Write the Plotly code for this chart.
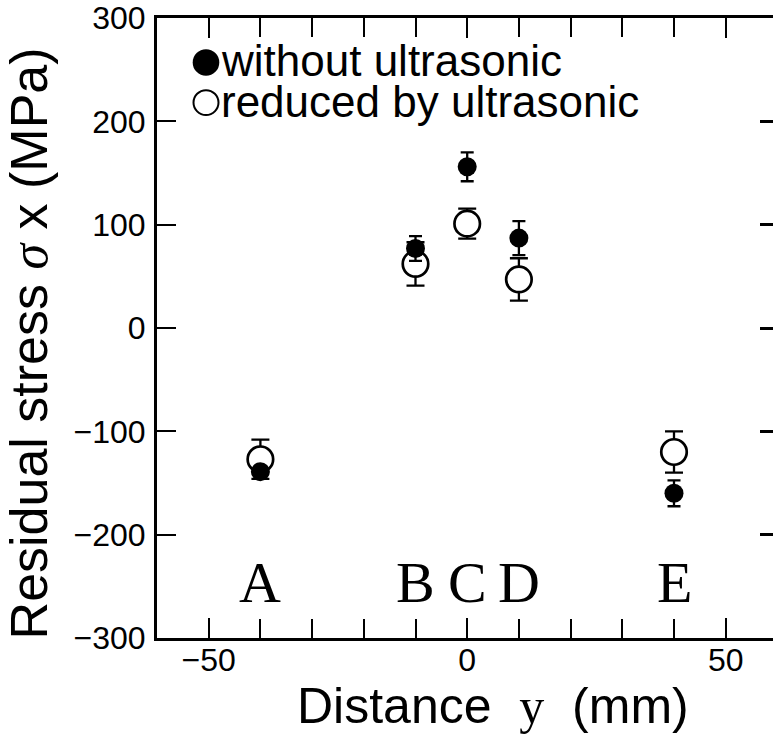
import plotly.graph_objects as go

# ---- data ----
x_pos = [-40, -10, 0, 10, 40]
letters = ["A", "B", "C", "D", "E"]
without_y = [-139, 77, 156, 87, -160]
without_err = [5, 12, 14, 16.5, 12.5]
reduced_y = [-127, 62, 101, 47, -120]
reduced_err = [19, 21, 14.5, 20.5, 20]
x_ticks = [-50, 0, 50]
y_ticks = [-300, -200, -100, 0, 100, 200, 300]

W, H = 773, 742
ML, MR, MT, MB = 157, 0, 15, 104
PW, PH = W - ML - MR, H - MT - MB


def px(xp):
    return (xp - ML) / PW


def py(yp):
    return (H - MB - yp) / PH


def lab(v):
    return str(v).replace("-", "\u2212")


SANS = "Liberation Sans, Arial, Helvetica, sans-serif"
SERIF = "Liberation Serif, Times New Roman, serif"

fig = go.Figure()

fig.add_trace(go.Scatter(
    x=x_pos, y=reduced_y, mode="markers", name="reduced by ultrasonic",
    marker=dict(symbol="circle", size=25.5, color="white",
                line=dict(width=2.7, color="black")),
    error_y=dict(type="data", array=reduced_err, visible=True,
                 color="black", thickness=2.3, width=9),
    showlegend=False,
))
fig.add_trace(go.Scatter(
    x=x_pos, y=without_y, mode="markers", name="without ultrasonic",
    marker=dict(symbol="circle", size=19, color="black", line=dict(width=0)),
    error_y=dict(type="data", array=without_err, visible=True,
                 color="black", thickness=2.3, width=6.5),
    showlegend=False,
))
# helper trace for the right-hand tick axis
fig.add_trace(go.Scatter(x=[None], y=[None], yaxis="y2", showlegend=False,
                         hoverinfo="skip"))

annotations = []
# position letters
for xv, t in zip(x_pos, letters):
    annotations.append(dict(x=xv, y=-246, xref="x", yref="y", text=t,
                            showarrow=False, xanchor="center", yanchor="middle",
                            font=dict(family=SERIF, size=58, color="black")))
# legend texts
annotations.append(dict(x=px(219), y=py(58), xref="paper", yref="paper",
                        text="without ultrasonic", showarrow=False,
                        xanchor="left", yanchor="middle",
                        font=dict(family=SANS, size=44, color="black")))
annotations.append(dict(x=px(219), y=py(99), xref="paper", yref="paper",
                        text="reduced by ultrasonic", showarrow=False,
                        xanchor="left", yanchor="middle",
                        font=dict(family=SANS, size=44, color="black")))
# axis titles
annotations.append(dict(
    x=px(493), y=py(706), xref="paper", yref="paper",
    text='Distance  <span style="font-family:Liberation Serif">y</span>  (mm)',
    showarrow=False, xanchor="center", yanchor="middle",
    font=dict(family=SANS, size=50, color="black")))
annotations.append(dict(
    x=px(29), y=py(342), xref="paper", yref="paper", textangle=-90,
    text='Residual stress <span style="font-family:Liberation Serif;font-style:italic">σ</span> x (MPa)',
    showarrow=False, xanchor="center", yanchor="middle",
    font=dict(family=SANS, size=52, color="black")))

shapes = [
    dict(type="circle", xref="paper", yref="paper",
         x0=px(192.7), x1=px(219.3), y0=py(73), y1=py(46.3),
         fillcolor="black", line=dict(width=0)),
    dict(type="circle", xref="paper", yref="paper",
         x0=px(193.5), x1=px(218.5), y0=py(112.5), y1=py(87.5),
         fillcolor="white", line=dict(width=2, color="black")),
]

fig.update_layout(
    width=W, height=H,
    margin=dict(l=ML, r=MR, t=MT, b=MB, pad=0),
    paper_bgcolor="white", plot_bgcolor="white",
    showlegend=False,
    annotations=annotations, shapes=shapes,
    xaxis=dict(
        range=[-60, 59.15], showgrid=False, zeroline=False,
        showline=True, linewidth=3, linecolor="black", mirror="ticks",
        ticks="inside", ticklen=20, tickwidth=2.2, tickcolor="black",
        tickmode="array", tickvals=x_ticks, ticktext=[lab(v) for v in x_ticks],
        minor=dict(dtick=10, tick0=0, ticks="inside", ticklen=19,
                   tickwidth=2.2, tickcolor="black", showgrid=False),
        tickfont=dict(family=SANS, size=32, color="black"),
        ticklabelstandoff=-8, ticklabeloverflow="allow",
    ),
    yaxis=dict(
        range=[-300, 300], showgrid=False, zeroline=False,
        showline=True, linewidth=3, linecolor="black", mirror=False,
        ticks="inside", ticklen=19, tickwidth=2.2, tickcolor="black",
        tickmode="array", tickvals=y_ticks, ticktext=[lab(v) for v in y_ticks],
        tickfont=dict(family=SANS, size=32, color="black"),
        ticklabelstandoff=2, ticklabeloverflow="allow",
    ),
    yaxis2=dict(
        overlaying="y", side="right", range=[-300, 300],
        showgrid=False, zeroline=False, showline=False,
        ticks="inside", ticklen=13, tickwidth=2.5, tickcolor="black",
        tickmode="array", tickvals=y_ticks, showticklabels=False,
    ),
)

fig.write_html(
    "out.html",
    config={"displayModeBar": False},
    post_script="document.body.style.margin='0';document.body.style.padding='0';",
)
